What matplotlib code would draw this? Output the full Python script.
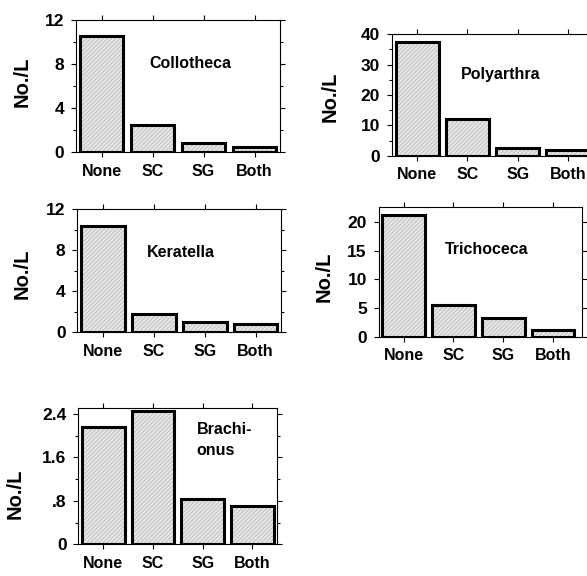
import matplotlib
matplotlib.use('Agg')
import matplotlib.pyplot as plt

plt.rcParams['font.family'] = ['Liberation Sans', 'DejaVu Sans']
plt.rcParams['font.weight'] = 'bold'
plt.rcParams['hatch.linewidth'] = 0.4

# dados
categorias = ['None', 'SC', 'SG', 'Both']
collotheca = [10.5, 2.45, 0.85, 0.45]
polyarthra = [37.4, 12.2, 2.5, 1.9]
keratella = [10.3, 1.78, 0.97, 0.84]
trichoceca = [21.3, 5.5, 3.2, 1.1]
brachionus = [2.15, 2.45, 0.83, 0.71]

paineis = [
    # nome, valores, posicao, ylim, major, minor, rotulos, pos nome, pos ylabel
    ('Collotheca', collotheca, [0.1295, 0.7361, 0.3475, 0.2292], 12,
     [0, 4, 8, 12], [2, 6, 10], None, (0.56, 0.67), (-0.217, 0.53)),
    ('Polyarthra', polyarthra, [0.6678, 0.7297, 0.3424, 0.2108], 40,
     [0, 10, 20, 30, 40], [5, 15, 25, 35], None, (0.54, 0.67), (-0.259, 0.486)),
    ('Keratella', keratella, [0.1317, 0.4231, 0.3470, 0.2141], 12,
     [0, 4, 8, 12], [2, 6, 10], None, (0.51, 0.645), (-0.224, 0.478)),
    ('Trichoceca', trichoceca, [0.6451, 0.4155, 0.3463, 0.2257], 22.7,
     [0, 5, 10, 15, 20], [], None, (0.53, 0.67), (-0.223, 0.46)),
    ('Brachi-\nonus', brachionus, [0.1334, 0.0550, 0.3390, 0.2361], 2.5,
     [0, 0.8, 1.6, 2.4], [0.4, 1.2, 2.0], ['0', '.8', '1.6', '2.4'], (0.595, 0.77), (-0.27, 0.37)),
]

fig = plt.figure(figsize=(5.87, 5.76), dpi=100)
x = range(len(categorias))

for nome, vals, pos, ytop, major, minor, rotulos, pos_nome, pos_ylab in paineis:
    ax = fig.add_axes(pos)
    # preenchimento hachurado + contorno preto
    ax.bar(x, vals, width=0.86, color='#e6e6e6', edgecolor='#a8a8a8',
           hatch='////////', linewidth=0)
    ax.bar(x, vals, width=0.86, fill=False, edgecolor='black', linewidth=2.2)
    ax.set_xlim(-0.5, 3.5 if 'Tricho' not in nome else 3.58)
    ax.set_ylim(0, ytop)
    ax.set_xticks(list(x))
    ax.set_xticklabels(categorias, fontsize=11.5, fontweight='bold')
    ax.set_yticks(major)
    ax.set_yticks(minor, minor=True)
    if rotulos:
        ax.set_yticklabels(rotulos)
    for lab in ax.get_yticklabels():
        lab.set_fontsize(12.5)
        lab.set_fontweight('bold')
    ax.tick_params(which='both', direction='out', top=True, right=True,
                   width=0.8, labelright=False, labeltop=False)
    ax.tick_params(which='major', length=3.5, pad=5)
    ax.tick_params(which='minor', length=2)
    for s in ax.spines.values():
        s.set_linewidth(0.8)
    ax.set_ylabel('No./L', fontsize=14.5, fontweight='bold')
    ax.yaxis.set_label_coords(*pos_ylab)
    ha = 'left' if 'Brachi' in nome else 'center'
    ax.text(pos_nome[0], pos_nome[1], nome, transform=ax.transAxes,
            ha=ha, va='center', fontsize=11.5, fontweight='bold',
            linespacing=1.5)

fig.savefig('out.png', dpi=100)
